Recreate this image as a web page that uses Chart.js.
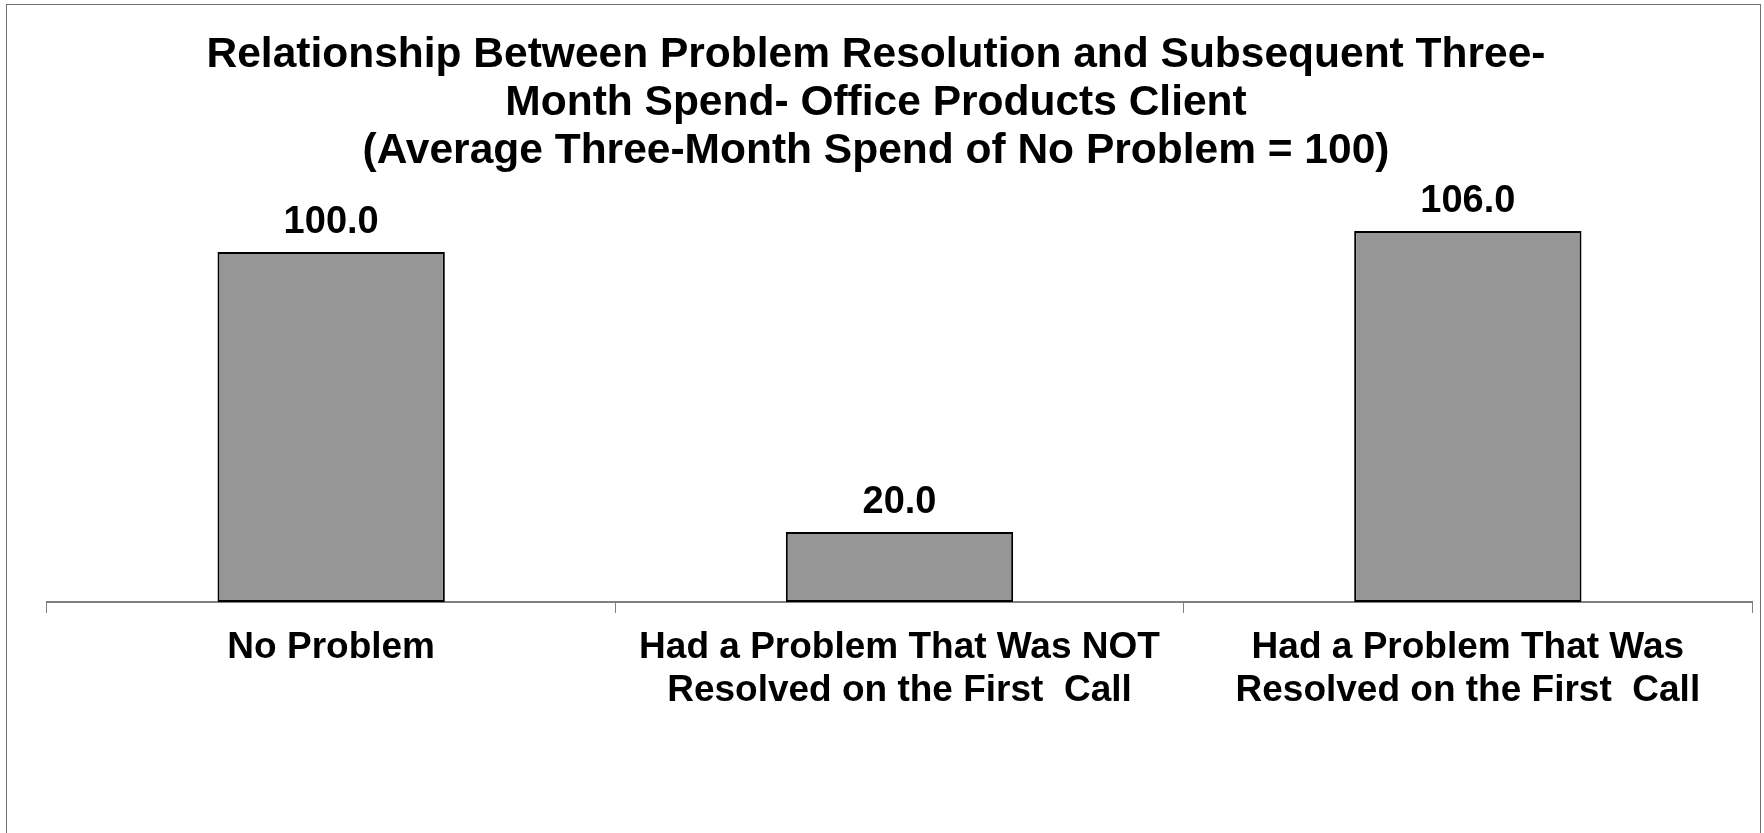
<!DOCTYPE html>
<html>
<head>
<meta charset="utf-8">
<script src="https://cdn.jsdelivr.net/npm/chart.js@4/dist/chart.umd.min.js"></script>
<style>
  html, body { margin:0; padding:0; background:#fff; }
  #wrap { position:relative; width:1764px; height:833px; overflow:hidden; }
  #frame { position:absolute; left:6px; top:4px; width:1755px; height:900px; border:1px solid #707070; box-sizing:border-box; pointer-events:none; }
  canvas { position:absolute; left:0; top:0; }
</style>
</head>
<body>
<div id="wrap">
  <canvas id="c" width="1764" height="833"></canvas>
  <div id="frame"></div>
</div>
<script>
const titleLines = [
  "Relationship Between Problem Resolution and Subsequent Three-",
  "Month Spend- Office Products Client",
  "(Average Three-Month Spend of No Problem = 100)"
];
const categories = [
  ["No Problem"],
  ["Had a Problem That Was NOT", "Resolved on the First  Call"],
  ["Had a Problem That Was", "Resolved on the First  Call"]
];
const spendIndex = [100.0, 20.0, 106.0];
const yMin = 0;
const yMax = 120;

const FONT = "'Liberation Sans', Arial, Helvetica, sans-serif";

const valueLabels = {
  id: 'valueLabels',
  afterDatasetsDraw(chart) {
    const ctx = chart.ctx;
    const meta = chart.getDatasetMeta(0);
    ctx.save();
    ctx.font = "bold 38px " + FONT;
    ctx.fillStyle = "#000";
    ctx.textAlign = "center";
    ctx.textBaseline = "middle";
    meta.data.forEach((bar, i) => {
      ctx.fillText(spendIndex[i].toFixed(1), bar.x, bar.y - 29);
    });
    ctx.restore();
  }
};

new Chart(document.getElementById('c'), {
  type: 'bar',
  data: {
    labels: categories,
    datasets: [{
      data: spendIndex,
      backgroundColor: '#969696',
      borderColor: '#000000',
      borderWidth: 2,
      borderSkipped: false,
      categoryPercentage: 1.0,
      barPercentage: 0.4
    }]
  },
  options: {
    responsive: false,
    animation: false,
    devicePixelRatio: 1,
    layout: { padding: { left: 0, right: 12, top: 0, bottom: 0 } },
    plugins: {
      legend: { display: false },
      tooltip: { enabled: false },
      title: {
        display: true,
        text: titleLines,
        color: '#000',
        font: { family: FONT, size: 42.5, weight: 'bold', lineHeight: '48px' },
        padding: { top: 31, bottom: 7 }
      }
    },
    scales: {
      x: {
        offset: true,
        grid: { display: true, offset: true, drawOnChartArea: false, drawTicks: true, tickLength: 11, color: '#808080', lineWidth: 1 },
        border: { display: true, color: '#808080', width: 2 },
        ticks: { color: '#000', padding: 13, maxRotation: 0, autoSkip: false,
                 font: { family: FONT, size: 37, weight: 'bold', lineHeight: '43px' } },
        afterFit: (s) => { s.height = 231; }
      },
      y: {
        display: true,
        min: yMin, max: yMax,
        grid: { display: false },
        border: { display: false },
        ticks: { display: false },
        afterFit: (s) => { s.width = 47; }
      }
    }
  },
  plugins: [valueLabels]
});
</script>
</body>
</html>
